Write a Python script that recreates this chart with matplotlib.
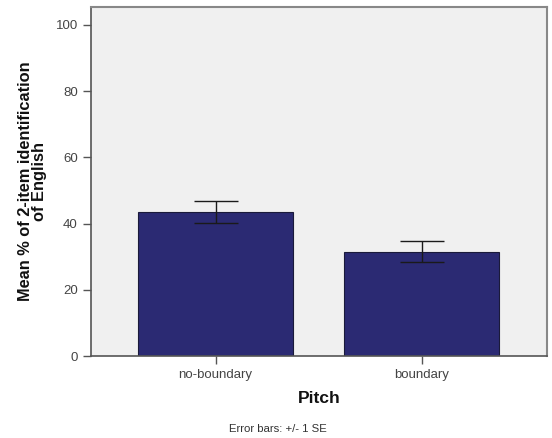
import numpy as np
import matplotlib.pyplot as plt

# data
categories = ["no-boundary", "boundary"]
means = [43.6, 31.5]
se = [3.3, 3.1]

plt.rcParams['font.family'] = ['Liberation Sans', 'DejaVu Sans']

fig = plt.figure(figsize=(5.52, 4.38), dpi=100)
ax = fig.add_axes([0.165, 0.187, 0.826, 0.797])
ax.set_facecolor("#f0f0f0")

x = np.arange(len(categories))
ax.bar(x, means, width=0.75, color="#2b2a73", edgecolor="#1a1a3a", linewidth=0.8, zorder=2)
ax.errorbar(x, means, yerr=se, fmt="none", ecolor="#1a1a1a", elinewidth=1,
            capsize=16, capthick=1, zorder=3)

ax.set_xlim(-0.604, 1.609)
ax.set_ylim(0, 105.4)
ax.set_yticks([0, 20, 40, 60, 80, 100])
ax.set_xticks(x)
ax.set_xticklabels(categories)

for s in ["left", "bottom"]:
    ax.spines[s].set_color("#555555")
    ax.spines[s].set_linewidth(1.2)
for s in ["top", "right"]:
    ax.spines[s].set_color("#888888")
    ax.spines[s].set_linewidth(1.5)

ax.tick_params(axis="both", colors="#555555", labelcolor="#444444", labelsize=9.5,
               length=6, width=1, direction="out")

ax.set_ylabel("Mean % of 2-item identification\nof English", fontsize=11.8,
              fontweight="bold", color="#111111", linespacing=0.95, labelpad=6)
ax.set_xlabel("Pitch", fontsize=12.5, fontweight="bold", color="#111111", labelpad=7)

fig.text(0.504, 0.013, "Error bars: +/- 1 SE", fontsize=8.2, color="#333333", ha="center")

fig.savefig("out.png", dpi=100)
